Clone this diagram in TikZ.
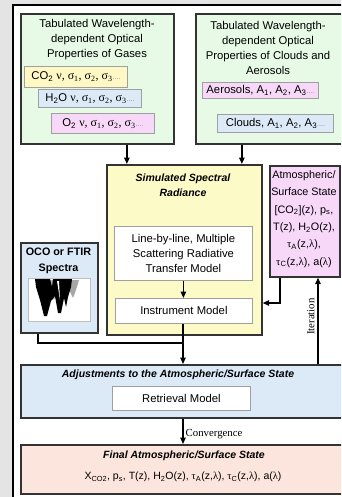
\documentclass[tikz,border=0pt]{standalone}
\usepackage{fontspec}
\setmainfont{Liberation Sans}
\newfontfamily\gr{Liberation Serif}
\usetikzlibrary{arrows.meta}
\definecolor{bgray}{HTML}{E4E4E4}
\definecolor{mint}{HTML}{E6FAE6}
\definecolor{lyel}{HTML}{FFF8C4}
\definecolor{syel}{HTML}{FCFAC6}
\definecolor{lblue}{HTML}{DCEAF8}
\definecolor{lpink}{HTML}{F8D8F8}
\definecolor{peach}{HTML}{FBE5DC}
\definecolor{boxline}{HTML}{333333}
\newcommand{\sx}[1]{\textsubscript{#1}}
\newcommand{\dts}{{\color{gray}\scriptsize....}}
\newcommand{\gk}[1]{{\gr\fontsize{12}{15}\selectfont #1}}
\tikzset{
  bigbox/.style={draw=boxline, line width=1.7pt, inner sep=0pt, anchor=north west},
  subbox/.style={draw=gray!75, line width=0.8pt, inner sep=0pt, anchor=north west,
    font=\fontsize{11.3}{15}\selectfont},
  txt/.style={align=center, font=\fontsize{11.3}{15}\selectfont, inner sep=0pt},
  ttl/.style={align=center, font=\fontsize{10.5}{15}\selectfont\bfseries\itshape, inner sep=0pt},
  conn/.style={line width=1.3pt, draw=black},
  arr/.style={conn, -{Triangle[length=6.5pt,width=5.5pt]}},
}
\begin{document}
\begin{tikzpicture}[x=1pt,y=-1pt]
\useasboundingbox (0,0) rectangle (341,497);
\clip (0,0) rectangle (341,497);
\fill[bgray] (0,0) rectangle (341,497);
\draw[line width=2.4pt, fill=white] (13,5) rectangle (352,502);

% top boxes
\node[bigbox, fill=mint, minimum width=153pt, minimum height=130pt] (gases) at (20,13) {};
\node[txt] (gt) at (97,40) {Tabulated Wavelength-\\dependent Optical\\Properties of Gases};
\node[subbox, fill=lyel, minimum width=103pt, minimum height=21pt] (co2) at (24,66)
  {CO\sx{2} \gk{ν, σ\sx{1}, σ\sx{2}, σ\sx{3}}\dts};
\node[subbox, fill=lblue, minimum width=103pt, minimum height=18pt] (h2o) at (38,89)
  {H\sx{2}O \gk{ν, σ\sx{1}, σ\sx{2}, σ\sx{3}}\dts};
\node[subbox, fill=lpink, minimum width=103pt, minimum height=20pt] (o2) at (51,113)
  {O\sx{2} \gk{ν, σ\sx{1}, σ\sx{2}, σ\sx{3}}\dts};

\node[bigbox, fill=mint, minimum width=152pt, minimum height=130pt] (clouds) at (195,13) {};
\node[txt] (ct) at (268,47.5) {Tabulated Wavelength-\\dependent Optical\\Properties of Clouds and\\Aerosols};
\node[subbox, fill=lpink, minimum width=116pt, minimum height=16pt] (aer) at (202,82)
  {Aerosols, A\sx{1}, A\sx{2}, A\sx{3}\dts};
\node[subbox, fill=lblue, minimum width=116pt, minimum height=18pt] (cld) at (217,114)
  {Clouds, A\sx{1}, A\sx{2}, A\sx{3}\dts};

% simulated radiance
\node[bigbox, fill=syel, minimum width=155pt, minimum height=170pt] (sim) at (106,164) {};
\node[ttl] (st) at (183,185.5) {Simulated Spectral\\Radiance};
\node[subbox, fill=white, minimum width=138pt, minimum height=54pt, align=center] (lbl) at (114,226)
  {Line-by-line, Multiple\\Scattering Radiative\\Transfer Model};
\node[subbox, fill=white, minimum width=137pt, minimum height=25pt] (inst) at (115,298) {Instrument Model};

% atmospheric state
\node[bigbox, fill=lpink, minimum width=70pt, minimum height=111pt] (atm) at (269,165) {};
\node[txt, font=\fontsize{10.8}{17.4}\selectfont] (at) at (304,219)
  {Atmospheric/\\Surface State\\{}[CO\sx{2}](z), p\sx{s},\\T(z), H\sx{2}O(z),\\{\gr τ}\sx{A}(z,{\gr λ}),\\{\gr τ}\sx{C}(z,{\gr λ}), a({\gr λ})};

% OCO spectra
\node[bigbox, fill=lblue, minimum width=77pt, minimum height=90pt] (oco) at (20,242) {};
\node[txt, font=\fontsize{10.8}{15.5}\selectfont\bfseries] (ot) at (58.5,261) {OCO or FTIR\\Spectra};
\node[draw=gray!50, line width=0.6pt, fill=white, minimum width=62pt, minimum height=43pt,
  inner sep=0pt, anchor=north west] (spec) at (28,278) {};
\fill[gray!60] (49,280) -- (58,280) -- (56,298) -- (52,300) -- cycle;
\fill[gray!70] (70,280) -- (79,280) -- (76,290) -- (73,298) -- (70,292) -- cycle;
\fill[black] (35,279) -- (50,279) -- (52,287) -- (53,279) -- (72,279) -- (71,287) -- (68,297)
  -- (66,307) -- (64,298) -- (61,313) -- (58,313) -- (55,296) -- (51,301) -- (47,316)
  -- (44,316) -- (40,300) -- (36,287) -- cycle;
\fill[white] (57,281) -- (59,281) -- (60,300) -- cycle;

% adjustments
\node[bigbox, fill=lblue, minimum width=335pt, minimum height=53pt] (adj) at (20,364) {};
\node[ttl] (adt) at (178,375) {Adjustments to the Atmospheric/Surface State};
\node[subbox, fill=white, minimum width=138pt, minimum height=24pt] (ret) at (112,386) {Retrieval Model};

% final
\node[bigbox, fill=peach, minimum width=335pt, minimum height=49pt] (fin) at (20,444) {};
\node[ttl] (ft) at (184,456) {Final Atmospheric/Surface State};
\node[txt, font=\fontsize{10.5}{15}\selectfont] (fv) at (183,477) {X\sx{CO2}, p\sx{s}, T(z), H\sx{2}O(z), {\gr τ}\sx{A}(z,{\gr λ}), {\gr τ}\sx{C}(z,{\gr λ}), a({\gr λ})};

% connectors
\coordinate (j1) at (280,303);
\coordinate (j2) at (183,343);
\coordinate (itx) at (318,0);
\coordinate (ocx) at (38,0);
\draw[arr] ([xshift=29.5pt]gases.south) -- ([xshift=29.5pt]gases.south |- sim.north);
\draw[arr] ([xshift=-30pt]clouds.south) -- ([xshift=-30pt]clouds.south |- sim.north);
\draw[arr] (lbl.south) -- (lbl.south |- inst.north);
\draw[arr] (atm.south -| j1) |- (sim.east |- j1);
\draw[arr] (adj.north -| itx) -- node[sloped, above, font=\gr\fontsize{10.8}{12}\selectfont, inner sep=3pt, pos=0.55] {Iteration} (atm.south -| itx);
\draw[conn] (oco.south -| ocx) |- (j2);
\draw[arr] (inst.south -| j2) -- (adj.north -| j2);
\draw[arr] (adj.south -| j2) -- node[right, font=\gr\fontsize{10.8}{12}\selectfont, inner sep=2pt, pos=0.6] {Convergence} (fin.north -| j2);
\end{tikzpicture}
\end{document}
